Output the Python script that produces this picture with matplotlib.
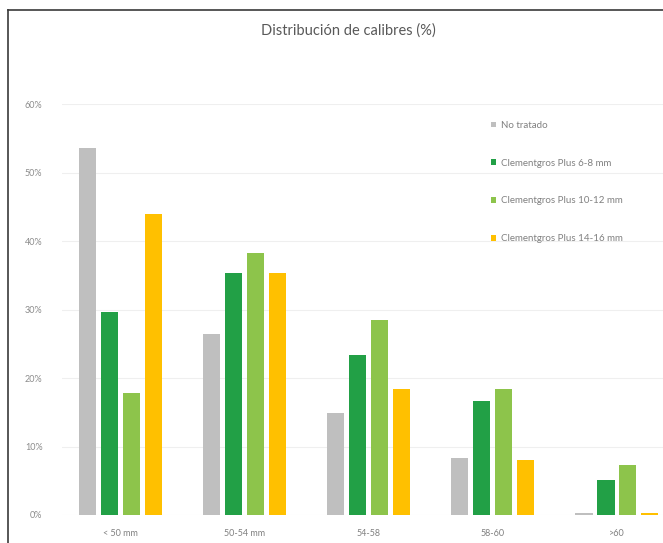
import matplotlib
matplotlib.use('Agg')
import matplotlib.pyplot as plt
from matplotlib.lines import Line2D
import numpy as np

categories = ['< 50 mm', '50-54 mm', '54-58', '58-60', '>60']
series_names = ['No tratado', 'Clementgros Plus 6-8 mm',
                'Clementgros Plus 10-12 mm', 'Clementgros Plus 14-16 mm']
no_tratado = [53.6, 26.4, 14.9, 8.3, 0.3]
plus_6_8 = [29.6, 35.4, 23.3, 16.6, 5.1]
plus_10_12 = [17.8, 38.3, 28.5, 18.4, 7.3]
plus_14_16 = [44.0, 35.4, 18.4, 8.0, 0.3]
colors = ['#BFBFBF', '#22A046', '#8DC44B', '#FFC000']
yticks = [0, 10, 20, 30, 40, 50, 60]

W, H = 663, 543
fig = plt.figure(figsize=(W / 100, H / 100), dpi=100)
plt.rcParams['font.family'] = ['Lato', 'DejaVu Sans']

# axes placed in pixel terms; chart is cropped at the right edge
left, right, bottom, top = 62, 663, 515, 104
ax = fig.add_axes([left / W, (H - bottom) / H, (right - left) / W, (bottom - top) / H])

x = np.arange(len(categories))
step = 0.177
width = 0.138
data = [no_tratado, plus_6_8, plus_10_12, plus_14_16]
handles = []
for i, vals in enumerate(data):
    b = ax.bar(x + (i - 1.5) * step, vals, width, color=colors[i], label=series_names[i], zorder=3)
    handles.append(b)

ax.set_xlim(-0.47, 4 + (663 - 617) / 124)
ax.set_ylim(0, 60)
ax.set_yticks(yticks)
ax.set_yticklabels([f'{t}%' for t in yticks], fontsize=6.5, color='#8C8C8C')
ax.set_xticks(x)
ax.set_xticklabels(categories, fontsize=6.5, color='#808080')
ax.tick_params(axis='both', length=0)
ax.tick_params(axis='y', pad=14)
ax.tick_params(axis='x', pad=10)
ax.grid(axis='y', color='#EFEFEF', linewidth=0.8, zorder=0)
for s in ax.spines.values():
    s.set_visible(False)

fig.text(348 / W, 1 - 31 / H, 'Distribución de calibres (%)', ha='center', va='center',
         fontsize=10.5, color='#595959')

leg = ax.legend(handles=handles, loc='upper left', bbox_to_anchor=(486 / W, 1 - 116 / H),
                bbox_transform=fig.transFigure, frameon=False, fontsize=7,
                handlelength=0.5, handleheight=0.5, handletextpad=0.5,
                labelspacing=2.96, borderpad=0)
for t in leg.get_texts():
    t.set_color('#808080')

# thin frame around the picture (left and top edges visible)
fig.add_artist(Line2D([8 / W, 8 / W], [0, 1 - 10 / H], transform=fig.transFigure,
                      color='#3A3A3A', linewidth=1.2))
fig.add_artist(Line2D([8 / W, 1], [1 - 10 / H, 1 - 10 / H], transform=fig.transFigure,
                      color='#3A3A3A', linewidth=1.2))

fig.savefig('out.png', dpi=100)
